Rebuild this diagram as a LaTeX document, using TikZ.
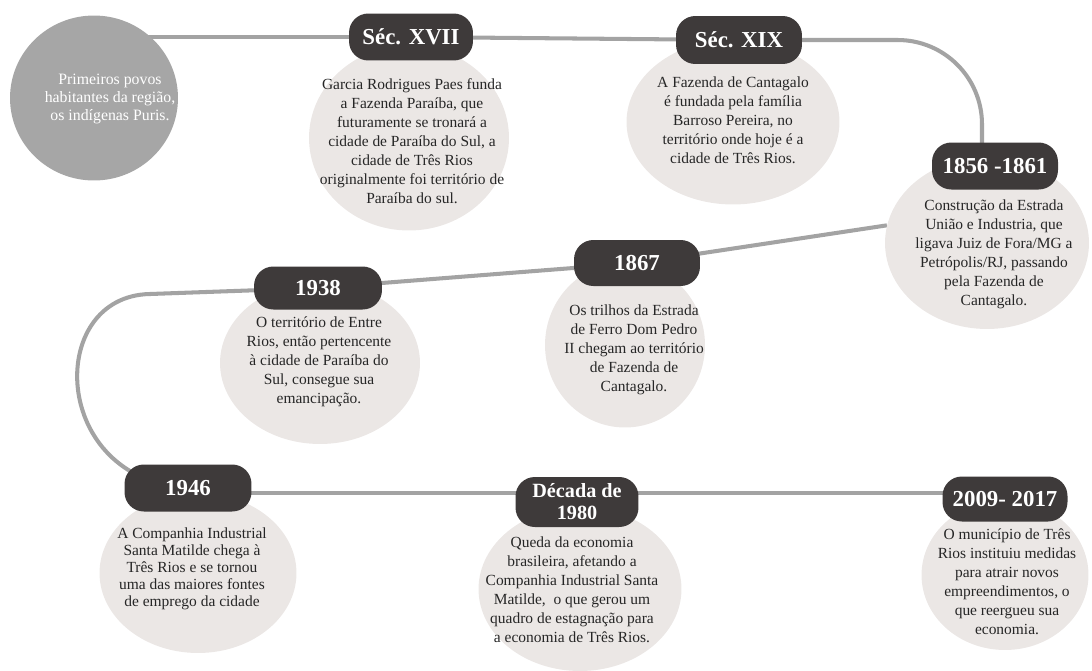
\documentclass[tikz,border=0pt]{standalone}
\usepackage{fontspec}
\setmainfont{Liberation Serif}
\usetikzlibrary{shapes.geometric,calc}
\definecolor{pillgray}{HTML}{3E3A3A}
\definecolor{blobgray}{HTML}{EBE7E5}
\definecolor{firstgray}{HTML}{A6A6A6}
\definecolor{linegray}{HTML}{A3A3A3}
\definecolor{txtgray}{HTML}{262626}
\pgfdeclarelayer{bg}
\pgfsetlayers{bg,main}
\tikzset{
  tline/.style={linegray,line width=2.3pt},
  blob/.style={ellipse,fill=blobgray,inner sep=0pt},
  pill/.style={rectangle,rounded corners=11pt,fill=pillgray,text=white,align=center,font=\bfseries\fontsize{13}{15}\selectfont,inner sep=0pt},
  info/.style={align=center,text=txtgray,font=\fontsize{8.8}{10.8}\selectfont,inner sep=0pt}
}

\begin{document}
\begin{tikzpicture}[x=0.02cm,y=-0.02cm]
    \useasboundingbox (0,0) rectangle (1092,670);
    \node[blob,fill=firstgray,minimum width=3.36cm,minimum height=3.3cm] (purisblob) at (94,98) {};
    \node[info,text=white,font=\fontsize{9}{10}\selectfont] (puristxt) at (110,99) {Primeiros povos\\habitantes da região,\\os indígenas Puris.};

    \node[blob,minimum width=4cm,minimum height=3.7cm] (xviiblob) at (409,138) {};
    \node[info] (xviitxt) at (412,141) {Garcia Rodrigues Paes funda\\a Fazenda Paraíba, que\\futuramente se tronará a\\cidade de Paraíba do Sul, a\\cidade de Três Rios\\originalmente foi território de\\Paraíba do sul.};
    \node[pill,minimum width=2.48cm,minimum height=0.94cm] (xvii) at (411,37) {Séc. XVII};

    \node[blob,minimum width=4.26cm,minimum height=3.3cm] (xixblob) at (733,122) {};
    \node[info] (xixtxt) at (733,120) {A Fazenda de Cantagalo\\é fundada pela família\\Barroso Pereira, no\\território onde hoje é a\\cidade de Três Rios.};
    \node[pill,minimum width=2.52cm,minimum height=0.96cm] (xix) at (739,40) {Séc. XIX};

    \node[blob,minimum width=4.08cm,minimum height=3.44cm] (blob1856) at (987,243) {};
    \node[info] (txt1856) at (994,254) {Construção da Estrada\\União e Industria, que\\ligava Juiz de Fora/MG a\\Petrópolis/RJ, passando\\pela Fazenda de\\Cantagalo.};
    \node[pill,minimum width=2.52cm,minimum height=0.94cm] (p1856) at (995,166) {1856 -1861};

    \node[blob,minimum width=3.2cm,minimum height=3.3cm] (blob1867) at (625,345) {};
    \node[info] (txt1867) at (634,350) {Os trilhos da Estrada\\de Ferro Dom Pedro\\II chegam ao território\\de Fazenda de\\Cantagalo.};
    \node[pill,minimum width=2.52cm,minimum height=0.92cm] (p1867) at (637,263) {1867};

    \node[blob,minimum width=4cm,minimum height=3.24cm] (blob1938) at (320,363) {};
    \node[info] (txt1938) at (319,362) {O território de Entre\\Rios, então pertencente\\à cidade de Paraíba do\\Sul, consegue sua\\emancipação.};
    \node[pill,minimum width=2.56cm,minimum height=0.86cm] (p1938) at (318,288) {1938};
    \coordinate (bend1938) at (150,294);

    \node[blob,minimum width=3.94cm,minimum height=3.2cm] (blob1946) at (198,573) {};
    \node[info,font=\fontsize{8.8}{9.7}\selectfont] (txt1946) at (192,569) {A Companhia Industrial\\Santa Matilde chega à\\Três Rios e se tornou\\uma das maiores fontes\\de emprego da cidade};
    \node[pill,minimum width=2.54cm,minimum height=0.94cm] (p1946) at (188,488) {1946};

    \node[blob,minimum width=4.06cm,minimum height=3.28cm] (blob1980) at (580,589) {};
    \node[info] (txt1980) at (572,590) {Queda da economia\\brasileira, afetando a\\Companhia Industrial Santa\\Matilde,~ o que gerou um\\quadro de estagnação para\\a economia de Três Rios.};
    \node[pill,minimum width=2.46cm,minimum height=1cm,font=\bfseries\fontsize{11.5}{12.5}\selectfont] (p1980) at (577,502) {Década de\\1980};

    \node[blob,minimum width=3.34cm,minimum height=3cm] (blob2009) at (1005,575) {};
    \node[info] (txt2009) at (1007,582) {O município de Três\\Rios instituiu medidas\\para atrair novos\\empreendimentos, o\\que reergueu sua\\economia.};
    \node[pill,minimum width=2.5cm,minimum height=0.9cm] (p2009) at (1005,499) {2009- 2017};
    \coordinate (lowrow) at (0,493);

    \begin{pgfonlayer}{bg}
        \draw[tline] (xvii.center) -- (xvii.center -| purisblob.center);
        \draw[tline] (xvii.center) -- (xix.center);
        \draw[tline,rounded corners=48pt] (xix.center) -| ($(p1856.center)+(-13,0)$);
        \draw[tline] (blob1856.170) -- (p1867.center);
        \draw[tline] (p1867.center) -- (p1938.center) -- (bend1938) .. controls (45,296) and (50,480) .. (p1946.center);
        \draw[tline] (p1946.center |- lowrow) -- (p2009.center |- lowrow);
    \end{pgfonlayer}
\end{tikzpicture}
\end{document}
